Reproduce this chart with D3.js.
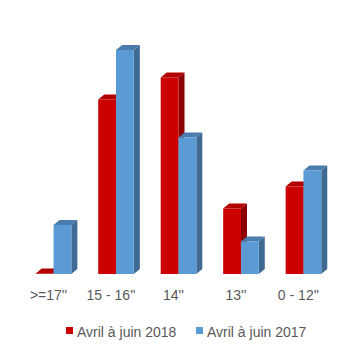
<!DOCTYPE html>
<html><head><meta charset="utf-8">
<script src="https://cdn.jsdelivr.net/npm/d3@7"></script>
<style>body{margin:0;background:#fff}svg{display:block}</style>
</head><body>
<script>
const categories = [">=17''", "15 - 16''", "14''", "13''", "0 - 12''"];
const series = ["Avril à juin 2018", "Avril à juin 2017"];
const values2018 = [0.1, 34.9, 39.3, 13.1, 17.5];
const values2017 = [9.8, 44.8, 27.3, 6.5, 20.7];
const colors = [
  {front: "#CC0000", top: "#B20000", side: "#8B0000"},
  {front: "#5B9BD5", top: "#4A7DAE", side: "#3E6A93"}
];
const W = 348, H = 356;
const svg = d3.select("body").append("svg").attr("width", W).attr("height", H);
const x = d3.scaleBand().domain(categories).range([22, 335]).paddingInner(0.43).paddingOuter(0.22);
const xs = d3.scaleBand().domain(series).range([0, x.bandwidth()]);
const y = d3.scaleLinear().domain([0, 50]).range([274, 24]);
const dx = 6, dy = 5;
const data = [values2018, values2017];
const g = svg.append("g");
categories.forEach((c, i) => {
  series.forEach((s, j) => {
    const v = data[j][i];
    const x0 = x(c) + xs(s), x1 = x0 + xs.bandwidth();
    const yt = y(v), yb = y(0);
    const col = colors[j];
    g.append("path").attr("d", `M${x1},${yt}L${x1+dx},${yt-dy}L${x1+dx},${yb-dy}L${x1},${yb}Z`).attr("fill", col.side);
    g.append("path").attr("d", `M${x0},${yt}L${x0+dx},${yt-dy}L${x1+dx},${yt-dy}L${x1},${yt}Z`).attr("fill", col.top);
    g.append("rect").attr("x", x0).attr("y", yt).attr("width", x1 - x0).attr("height", Math.max(0, yb - yt)).attr("fill", col.front);
  });
});
const xAxis = d3.axisBottom(x).tickSize(0).tickPadding(0);
const ax = svg.append("g").attr("transform", "translate(-5,290)").call(xAxis);
ax.select(".domain").remove();
ax.selectAll("text").attr("font-family", "Liberation Sans, Arial, sans-serif").attr("font-size", 14).attr("fill", "#595959").attr("dy", "0.71em");
const leg = svg.append("g").attr("font-family", "Liberation Sans, Arial, sans-serif").attr("font-size", 14).attr("fill", "#595959");
const legX = [66, 196];
series.forEach((s, j) => {
  leg.append("rect").attr("x", legX[j]).attr("y", 327).attr("width", 7).attr("height", 7).attr("fill", colors[j].front);
  leg.append("text").attr("x", legX[j] + 11).attr("y", 332).attr("dy", "0.35em").text(s);
});
</script>
</body></html>
